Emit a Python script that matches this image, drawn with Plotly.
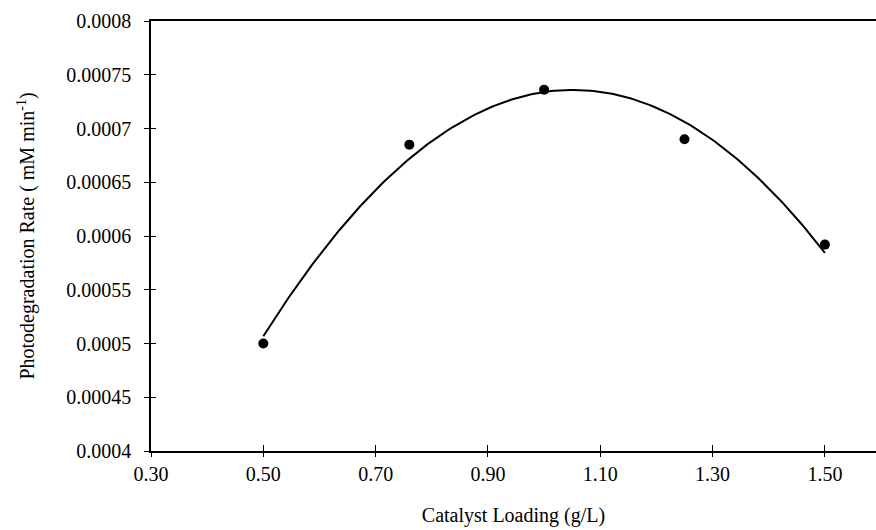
import numpy as np
import plotly.graph_objects as go

# Data
loading = [0.50, 0.76, 1.00, 1.25, 1.50]          # g/L
rate = [0.000500, 0.000685, 0.000736, 0.000690, 0.000592]  # mM/min

x_ticks = [0.30, 0.50, 0.70, 0.90, 1.10, 1.30, 1.50]
x_tick_text = ["0.30", "0.50", "0.70", "0.90", "1.10", "1.30", "1.50"]
y_ticks = [0.0004, 0.00045, 0.0005, 0.00055, 0.0006, 0.00065, 0.0007, 0.00075, 0.0008]
y_tick_text = ["0.0004", "0.00045", "0.0005", "0.00055", "0.0006", "0.00065", "0.0007", "0.00075", "0.0008"]

# Second-order polynomial trendline (least squares on the data)
coef = np.polyfit(loading, rate, 2)
xf = np.linspace(min(loading), max(loading), 200)
yf = np.polyval(coef, xf)

FONT = "Liberation Serif"
FS = 20

fig = go.Figure()
fig.add_trace(go.Scatter(x=xf, y=yf, mode="lines",
                         line=dict(color="black", width=2), hoverinfo="skip",
                         showlegend=False))
fig.add_trace(go.Scatter(x=loading, y=rate, mode="markers",
                         marker=dict(color="black", size=10), showlegend=False))

xr = [0.30, 1.591]
yr = [0.0004, 0.0008]

fig.update_layout(
    width=876, height=530,
    margin=dict(l=151, r=0, t=21, b=79),
    paper_bgcolor="white", plot_bgcolor="white",
    font=dict(family=FONT, size=FS, color="black"),
    xaxis=dict(range=xr, tickvals=x_ticks, ticktext=x_tick_text,
               showgrid=False, zeroline=False, showline=True, linecolor="black",
               linewidth=1.5, mirror=True, ticks="outside", ticklen=4,
               tickcolor="black", tickwidth=1, ticklabelstandoff=0,
               tickfont=dict(family=FONT, size=FS),
               title=dict(text="Catalyst Loading (g/L)", standoff=24,
                          font=dict(family=FONT, size=FS))),
    yaxis=dict(range=yr, tickvals=y_ticks, ticktext=y_tick_text,
               showgrid=False, zeroline=False, showline=True, linecolor="black",
               linewidth=1.5, ticks="outside", ticklen=5,
               tickcolor="black", tickwidth=1, ticklabelstandoff=9,
               tickfont=dict(family=FONT, size=FS),
               title=dict(text="Photodegradation Rate ( mM min<sup>-1</sup>)",
                          standoff=26, font=dict(family=FONT, size=FS))),
    xaxis2=dict(range=xr, overlaying="x", tickvals=x_ticks, showticklabels=False,
                ticks="inside", ticklen=6, tickcolor="black", tickwidth=1,
                showgrid=False, zeroline=False, showline=False, side="bottom",
                anchor="y"),
    yaxis2=dict(range=yr, overlaying="y", tickvals=y_ticks, showticklabels=False,
                ticks="inside", ticklen=5, tickcolor="black", tickwidth=1,
                showgrid=False, zeroline=False, showline=False, side="left",
                anchor="x"),
)
# invisible trace to activate the overlay axes
fig.add_trace(go.Scatter(x=[None], y=[None], xaxis="x2", yaxis="y2",
                         showlegend=False, hoverinfo="skip"))

fig.write_html("out.html")
